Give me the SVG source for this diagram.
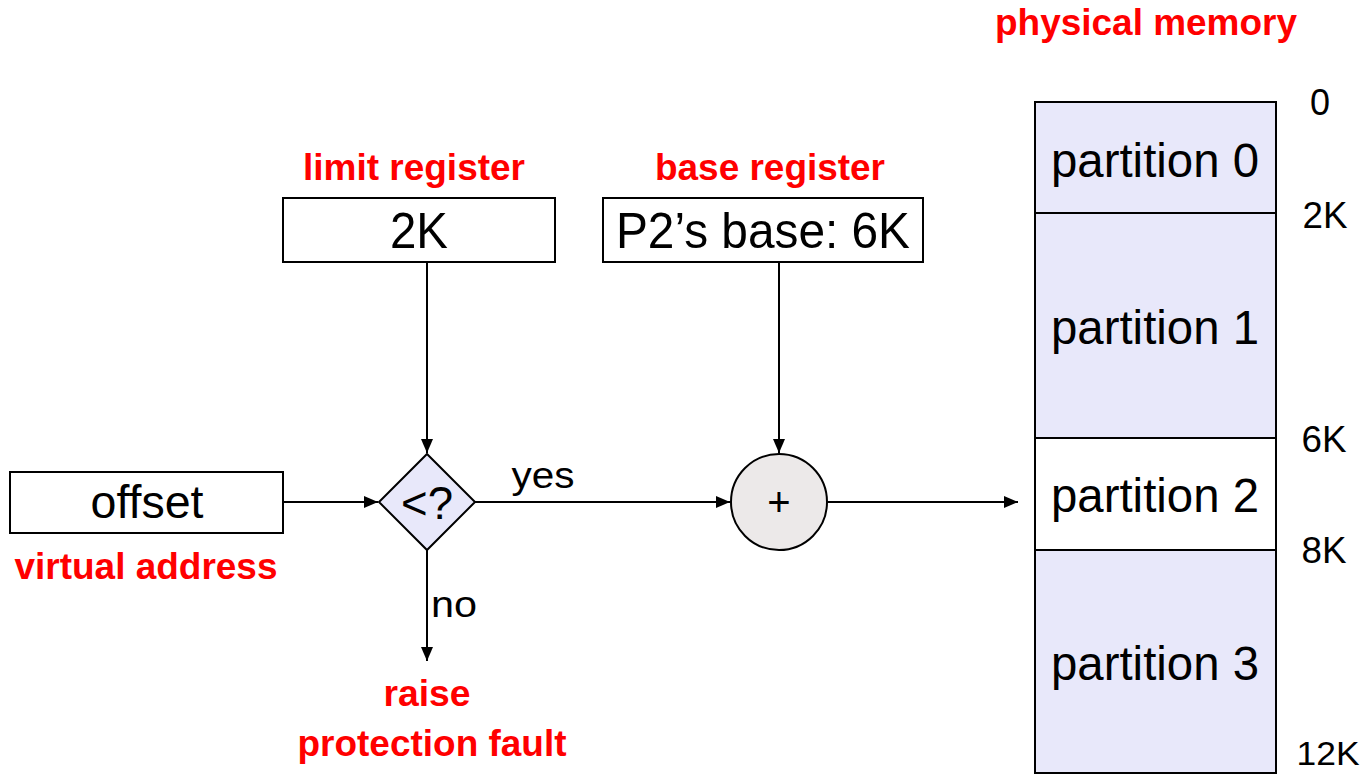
<svg xmlns="http://www.w3.org/2000/svg" width="1364" height="775" viewBox="0 0 1364 775">
<defs>
<style>
.box{fill:#fff;stroke:#000;stroke-width:2}
.mem{fill:#e8e8fa;stroke:#000;stroke-width:2}
.t{font-family:"Liberation Sans",Arial,sans-serif;fill:#000;text-anchor:middle}
.r{font-family:"Liberation Sans",Arial,sans-serif;fill:#f00;font-weight:bold;text-anchor:middle;font-size:36px}
.ln{stroke:#000;stroke-width:2;fill:none;marker-end:url(#ah)}
</style>
<marker id="ah" viewBox="0 0 14 12" refX="14" refY="6" markerWidth="14" markerHeight="12" markerUnits="userSpaceOnUse" orient="auto"><path d="M0,0L14,6L0,12z" fill="#000"/></marker>
</defs>
<rect width="1364" height="775" fill="#fff"/>
<g id="connectors">
<line class="ln" x1="283" y1="502" x2="378" y2="502"/>
<line class="ln" x1="427" y1="262" x2="427" y2="453"/>
<line class="ln" x1="475" y1="502" x2="730" y2="502"/>
<line class="ln" x1="779" y1="262" x2="779" y2="453"/>
<line class="ln" x1="828" y1="502" x2="1018" y2="502"/>
<line class="ln" x1="427" y1="550" x2="427" y2="661"/>
<text class="t" x="543" y="488" font-size="36" textLength="63" lengthAdjust="spacingAndGlyphs">yes</text>
<text class="t" x="454" y="617" font-size="36" textLength="46" lengthAdjust="spacingAndGlyphs">no</text>
</g>
<g id="offset">
<rect class="box" x="10" y="472" width="273" height="61"/>
<text class="t" x="147" y="518" font-size="46" textLength="113" lengthAdjust="spacingAndGlyphs">offset</text>
<text class="r" x="146" y="579" textLength="263" lengthAdjust="spacingAndGlyphs">virtual address</text>
</g>
<g id="limit">
<text class="r" x="414" y="180" textLength="222" lengthAdjust="spacingAndGlyphs">limit register</text>
<rect class="box" x="283" y="198" width="272" height="64"/>
<text class="t" x="419" y="248" font-size="50" textLength="58" lengthAdjust="spacingAndGlyphs">2K</text>
</g>
<g id="base">
<text class="r" x="770" y="180" textLength="230" lengthAdjust="spacingAndGlyphs">base register</text>
<rect class="box" x="603" y="198" width="320" height="64"/>
<text class="t" x="763" y="248" font-size="50" textLength="294" lengthAdjust="spacingAndGlyphs">P2’s base: 6K</text>
</g>
<g id="compare">
<polygon points="427,454 475,502 427,550 379,502" fill="#e8e8fa" stroke="#000" stroke-width="2"/>
<text class="t" x="427" y="519" font-size="46" textLength="52" lengthAdjust="spacingAndGlyphs">&lt;?</text>
</g>
<g id="adder">
<circle cx="779" cy="502" r="48" fill="#ece9e9" stroke="#000" stroke-width="2"/>
<text class="t" x="779" y="516" font-size="40">+</text>
</g>
<g id="fault">
<text class="r" x="427" y="706" textLength="87" lengthAdjust="spacingAndGlyphs">raise</text>
<text class="r" x="432" y="756" textLength="269" lengthAdjust="spacingAndGlyphs">protection fault</text>
</g>
<g id="memory">
<text class="r" x="1146" y="35" textLength="302" lengthAdjust="spacingAndGlyphs">physical memory</text>
<rect class="mem" x="1035" y="102" width="241" height="111"/>
<rect class="mem" x="1035" y="213" width="241" height="225"/>
<rect class="box" x="1035" y="438" width="241" height="112"/>
<rect class="mem" x="1035" y="550" width="241" height="223"/>
<text class="t" x="1155" y="177" font-size="48" textLength="208" lengthAdjust="spacingAndGlyphs">partition 0</text>
<text class="t" x="1155" y="344" font-size="48" textLength="208" lengthAdjust="spacingAndGlyphs">partition 1</text>
<text class="t" x="1155" y="512" font-size="48" textLength="208" lengthAdjust="spacingAndGlyphs">partition 2</text>
<text class="t" x="1155" y="680" font-size="48" textLength="208" lengthAdjust="spacingAndGlyphs">partition 3</text>
<text class="t" x="1320" y="115" font-size="36">0</text>
<text class="t" x="1325" y="228" font-size="36" textLength="45" lengthAdjust="spacingAndGlyphs">2K</text>
<text class="t" x="1324" y="452" font-size="36" textLength="45" lengthAdjust="spacingAndGlyphs">6K</text>
<text class="t" x="1324" y="563" font-size="36" textLength="45" lengthAdjust="spacingAndGlyphs">8K</text>
<text class="t" x="1328" y="765" font-size="34" textLength="63" lengthAdjust="spacingAndGlyphs">12K</text>
</g>
</svg>
